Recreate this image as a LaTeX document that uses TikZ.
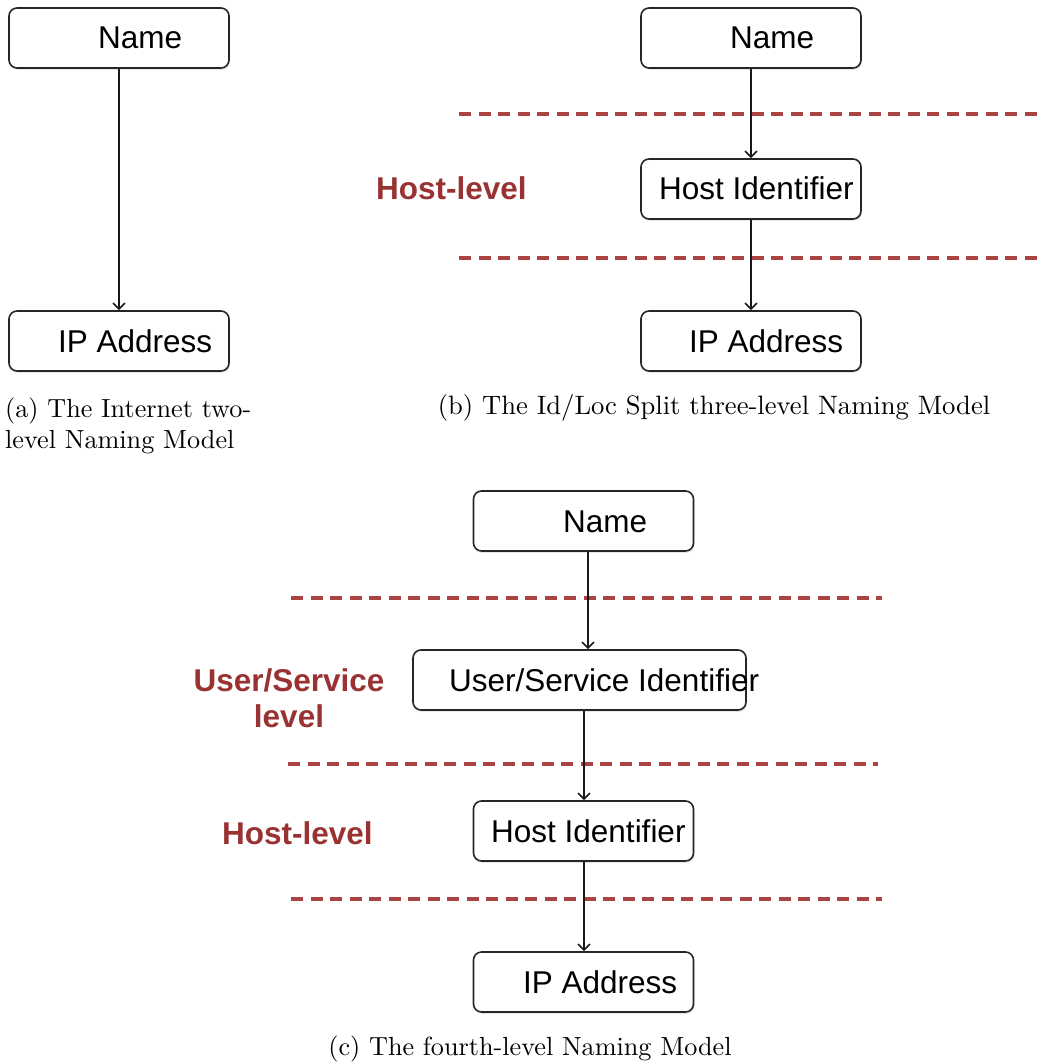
\documentclass[tikz,border=0pt]{standalone}
\usepackage{fontspec}
\newfontfamily\arial{Liberation Sans}
\usetikzlibrary{arrows.meta,shadows}
\definecolor{lvlred}{RGB}{153,51,51}
\definecolor{dashred}{RGB}{170,68,68}
\begin{document}
\begin{tikzpicture}[x=1pt,y=-1pt,
  box/.style={draw=black!85,line width=1.6pt,rounded corners=8pt,fill=white,
    minimum width=220pt,minimum height=60pt,inner sep=0pt,
    drop shadow={opacity=0.18,shadow xshift=1pt,shadow yshift=-2pt}},
  boxtext/.style={anchor=base west,inner sep=0pt,font=\arial\fontsize{31.5}{36}\selectfont},
  lvl/.style={inner sep=0pt,text=lvlred,font=\arial\bfseries\fontsize{31.5}{36}\selectfont},
  arr/.style={line width=1.6pt,draw=black!90,-{Straight Barb[length=6pt,width=12pt,line width=1.6pt]}},
  sep/.style={draw=dashred,line width=3.2pt,dash pattern=on 12pt off 7.5pt},
  capt/.style={inner sep=0pt,anchor=base}
]
\useasboundingbox (0,0) rectangle (1044,1064);

% ---------- (a)
\node[box] (a1) at (119,38) {};
\node[box] (a2) at (119,341) {};
\node[boxtext] (a1t) at (98,49) {Name};
\node[boxtext] (a2t) at (58,352) {IP Address};
\draw[arr] (a1.south) -- (a2.north);
\node[capt,anchor=base west] (acap) at (5,417)
  {\scalebox{2.62}{\begin{tabular}[t]{@{}l@{}}(a) The Internet two-\\level Naming Model\end{tabular}}};

% ---------- (b)
\draw[sep] (459,114) -- (1044,114);
\draw[sep] (459,258) -- (1044,258);
\node[box] (b1) at (751,38) {};
\node[box] (b2) at (751,189) {};
\node[box] (b3) at (751,341) {};
\node[boxtext] (b1t) at (730,49) {Name};
\node[boxtext] (b2t) at (659,200) {Host Identifier};
\node[boxtext] (b3t) at (689,352) {IP Address};
\draw[arr] (b1.south) -- (b2.north);
\draw[arr] (b2.south) -- (b3.north);
\node[lvl,anchor=base west] (bl) at (376,200) {Host-level};
\node[capt] (bcap) at (714,414) {\scalebox{2.66}{(b) The Id/Loc Split three-level Naming Model}};

% ---------- (c)
\draw[sep] (291,598) -- (882,598);
\draw[sep] (288,764) -- (878,764);
\draw[sep] (291,899) -- (882,899);
\node[box] (c1) at (583.5,521) {};
\node[box,minimum width=333pt] (c2) at (579.5,680) {};
\node[box] (c3) at (583.5,831) {};
\node[box] (c4) at (583.5,982) {};
\node[boxtext] (c1t) at (563,532) {Name};
\node[boxtext] (c2t) at (449,691) {User/Service Identifier};
\node[boxtext] (c3t) at (491,842) {Host Identifier};
\node[boxtext] (c4t) at (523,993) {IP Address};
\draw[arr] ([xshift=4.5pt]c1.south) -- ([xshift=4.5pt]c1.south |- c2.north);
\draw[arr] ([xshift=0.5pt]c3.north |- c2.south) -- ([xshift=0.5pt]c3.north);
\draw[arr] ([xshift=0.5pt]c3.south) -- ([xshift=0.5pt]c4.north);
\node[lvl,align=center,anchor=base] (cl1) at (289,727) {User/Service\\level};
\node[lvl,anchor=base west] (cl2) at (222,844) {Host-level};
\node[capt] (ccap) at (530,1055) {\scalebox{2.62}{(c) The fourth-level Naming Model}};
\end{tikzpicture}
\end{document}
